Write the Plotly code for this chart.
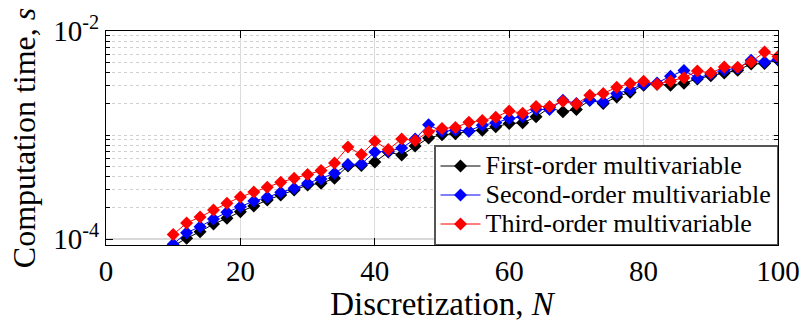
import plotly.graph_objects as go

# Discretization N
N = list(range(10, 101, 2))

# Computation time in units of 1e-4 s
first_order = [0.863, 1.022, 1.183, 1.402, 1.589, 1.839, 2.086, 2.381, 2.659, 2.970,
               3.316, 3.443, 3.845, 5.045, 5.123, 5.510, 6.871, 6.430, 7.844, 9.402,
               10.09, 10.29, 10.92, 11.17, 12.01, 12.95, 13.12, 14.98, 18.35, 16.73,
               17.63, 21.66, 20.14, 23.29, 25.84, 30.16, 30.83, 30.16, 31.52, 34.66,
               37.20, 39.56, 42.00, 48.15, 48.68, 52.72]
second_order = [0.896, 1.157, 1.321, 1.565, 1.815, 2.054, 2.329, 2.528, 2.822, 3.083,
                3.443, 3.785, 4.294, 5.215, 5.272, 6.901, 6.994, 7.506, 9.196, 12.56,
                10.85, 11.17, 10.97, 12.47, 13.12, 14.46, 14.98, 17.63, 17.63, 21.66,
                20.14, 21.66, 20.86, 25.11, 27.31, 30.83, 31.72, 36.79, 41.72, 35.35,
                38.70, 42.28, 43.89, 52.38, 50.45, 53.19]
third_order = [1.112, 1.433, 1.636, 1.909, 2.214, 2.545, 2.841, 3.158, 3.527, 3.845,
               4.182, 4.567, 5.390, 7.672, 6.531, 8.720, 7.261, 9.196, 8.896, 10.75,
               11.59, 11.85, 13.32, 13.83, 14.88, 17.06, 16.25, 18.84, 18.84, 21.10,
               19.92, 24.18, 25.11, 28.85, 31.31, 32.94, 30.83, 32.94, 35.59, 41.35,
               39.56, 45.16, 44.87, 50.45, 62.90, 56.83]
UNIT = 1e-4

series_names = ["First-order multivariable", "Second-order multivariable", "Third-order multivariable"]
series_values = [first_order, second_order, third_order]
series_colors = ["#000000", "#0000FF", "#FF0000"]

x_ticks = [0, 20, 40, 60, 80, 100]
y_ticks = [1e-4, 1e-2]
y_ticktext = ["10<sup>-4</sup>", "10<sup>-2</sup>"]
y_minor = [9e-5] + [k * 1e-4 for k in range(2, 10)] + [k * 1e-3 for k in range(1, 10)]

FONT = "Liberation Serif, serif"

fig = go.Figure()
for name, vals, col in zip(series_names, series_values, series_colors):
    fig.add_trace(go.Scatter(
        x=N, y=[v * UNIT for v in vals],
        name='<span style="font-size:26px">' + name + '</span>',
        mode="lines+markers",
        line=dict(color=col, width=1),
        marker=dict(symbol="diamond", size=10, color=col),
    ))

fig.update_layout(
    width=800, height=322,
    margin=dict(l=106, r=22, t=31, b=77, autoexpand=False),
    paper_bgcolor="white", plot_bgcolor="white",
    font=dict(family=FONT, color="black", size=26),
    showlegend=True,
    legend=dict(x=1, y=0, xanchor="right", yanchor="bottom",
                bgcolor="white", bordercolor="#555555", borderwidth=1.5,
                font=dict(family=FONT, size=20, color="black"),
                tracegroupgap=0, itemwidth=40),
)
fig.update_xaxes(
    range=[0, 100], tickvals=x_ticks, automargin=False,
    showline=True, linecolor="black", linewidth=1, mirror="allticks",
    ticks="inside", ticklen=7, tickcolor="black",
    showgrid=True, gridcolor="#dcdcdc", gridwidth=1, zeroline=False,
    tickfont=dict(family=FONT, size=29, color="black"),
    title=dict(text="Discretization, <i>N</i>", font=dict(family=FONT, size=33, color="black"), standoff=2),
)
fig.update_yaxes(
    type="log", range=[-4.055, -2], tickvals=y_ticks, ticktext=y_ticktext, automargin=False,
    showline=True, linecolor="black", linewidth=1, mirror="allticks",
    ticks="inside", ticklen=7, tickcolor="black",
    showgrid=True, gridcolor="#d8d8d8", gridwidth=1.5, zeroline=False,
    tickfont=dict(family=FONT, size=29, color="black"),
    minor=dict(tickvals=y_minor, ticks="inside", ticklen=4, tickcolor="black",
               showgrid=True, gridcolor="#d0d0d0", griddash="dot", gridwidth=1),
    title=dict(text="Computation time, <i>s</i>", font=dict(family=FONT, size=32, color="black"), standoff=8),
)

fig.write_html("out.html",
               post_script="document.body.style.margin='0px';document.body.style.overflow='hidden';")
